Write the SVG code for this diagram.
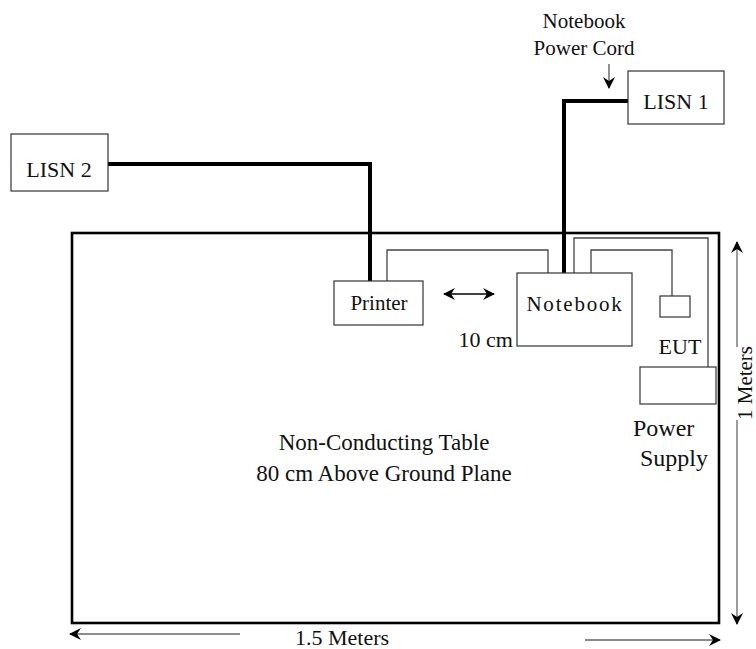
<svg xmlns="http://www.w3.org/2000/svg" width="756" height="649" viewBox="0 0 756 649">
<defs>
<style>
text{font-family:"Liberation Serif","Times New Roman",serif;fill:#111;}
.box{fill:#fff;stroke:#333;stroke-width:1.2;}
.cord{fill:none;stroke:#000;stroke-width:4;stroke-linejoin:miter;}
.cable{fill:none;stroke:#444;stroke-width:1.3;}
.dim{fill:none;stroke:#666;stroke-width:1.3;}
</style>
<marker id="ah" viewBox="0 0 12 12" refX="11" refY="6" markerWidth="12" markerHeight="12" markerUnits="userSpaceOnUse" orient="auto-start-reverse">
<path d="M0,0 L12,6 L0,12 L4,6 z" fill="#000"/>
</marker>
</defs>
<rect width="756" height="649" fill="#fff"/>

<g id="table">
<rect x="72" y="233" width="647" height="390" fill="none" stroke="#000" stroke-width="2.6"/>
<text x="384" y="450" font-size="23" text-anchor="middle">Non-Conducting Table</text>
<text x="384" y="481" font-size="23" text-anchor="middle">80 cm Above Ground Plane</text>
</g>

<g id="connectors">
<polyline class="cord" points="108,164 370,164 370,281"/>
<polyline class="cord" points="628,101 564,101 564,273"/>
<polyline class="cable" points="387,281 387,250 548,250 548,273"/>
<polyline class="cable" points="574,273 574,238 708,238 708,367"/>
<polyline class="cable" points="591,273 591,250 672,250 672,296"/>
<line x1="609" y1="64" x2="609" y2="88" stroke="#555" stroke-width="1.3" marker-end="url(#ah)"/>
<line x1="444" y1="294" x2="494" y2="294" stroke="#000" stroke-width="1.5" marker-start="url(#ah)" marker-end="url(#ah)"/>
</g>

<g id="lisn1">
<rect class="box" x="628" y="71" width="96" height="53"/>
<text x="676" y="109" font-size="22" text-anchor="middle">LISN 1</text>
</g>
<g id="notebook-power-cord-label">
<text x="584" y="28" font-size="21" text-anchor="middle">Notebook</text>
<text x="584" y="55" font-size="21" text-anchor="middle">Power Cord</text>
</g>
<g id="lisn2">
<rect class="box" x="11" y="134" width="97" height="57"/>
<text x="59" y="177" font-size="22" text-anchor="middle">LISN 2</text>
</g>
<g id="printer">
<rect class="box" x="334" y="281" width="89" height="44"/>
<text x="379" y="310" font-size="21" text-anchor="middle">Printer</text>
</g>
<g id="notebook">
<rect class="box" x="517" y="273" width="115" height="73"/>
<text x="575" y="311" font-size="21" text-anchor="middle" letter-spacing="1.8">Notebook</text>
</g>
<text x="513" y="347" font-size="22" text-anchor="end">10 cm</text>
<g id="eut">
<rect class="box" x="660" y="296" width="30" height="21"/>
<text x="680" y="354" font-size="22" text-anchor="middle">EUT</text>
</g>
<g id="power-supply">
<rect class="box" x="640" y="367" width="76" height="37"/>
<text x="633" y="436" font-size="24">Power</text>
<text x="640" y="466" font-size="24">Supply</text>
</g>

<g id="dimensions">
<line class="dim" x1="240" y1="634" x2="70" y2="634" marker-end="url(#ah)"/>
<line class="dim" x1="585" y1="640" x2="720" y2="640" marker-end="url(#ah)"/>
<text x="342" y="645" font-size="22" text-anchor="middle">1.5 Meters</text>
<line class="dim" x1="737" y1="347" x2="737" y2="242" marker-end="url(#ah)"/>
<line class="dim" x1="737" y1="420" x2="737" y2="624" marker-end="url(#ah)"/>
<text transform="translate(752,383) rotate(-90)" font-size="21" text-anchor="middle">1 Meters</text>
</g>
</svg>
